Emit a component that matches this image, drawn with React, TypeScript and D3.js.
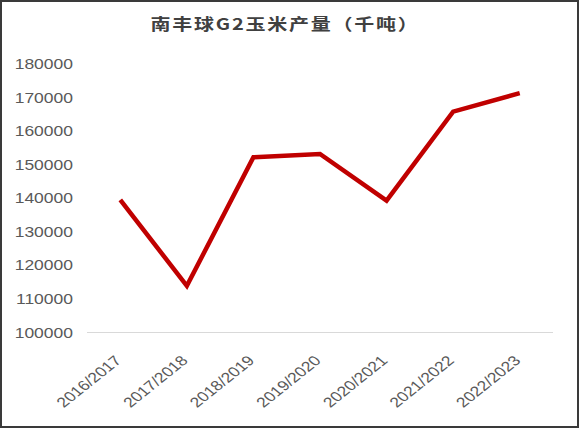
import { useEffect, useRef } from 'react';
import * as d3 from 'd3';

const seasons = [
  '2016/2017',
  '2017/2018',
  '2018/2019',
  '2019/2020',
  '2020/2021',
  '2021/2022',
  '2022/2023',
];
const output = [139500, 113900, 152200, 153200, 139300, 165800, 171300];
const yTicks = [100000, 110000, 120000, 130000, 140000, 150000, 160000, 170000, 180000];
const title = '南丰球G2玉米产量（千吨）';

// the reference screenshot is stretched horizontally, so text is too
const stretch = 1.25;

export default function App() {
  const svgRef = useRef<SVGSVGElement>(null);

  useEffect(() => {
    if (!svgRef.current) return;
    const svg = d3.select(svgRef.current);
    svg.selectAll('*').remove();

    const width = 581;
    const height = 430;
    const margin = { top: 64, right: 28, bottom: 97, left: 87 };

    svg.attr('width', width).attr('height', height);

    svg
      .append('rect')
      .attr('x', 1)
      .attr('y', 1)
      .attr('width', 577)
      .attr('height', 426)
      .attr('fill', '#fff')
      .attr('stroke', '#3a3a3a')
      .attr('stroke-width', 2);

    const x = d3
      .scaleBand()
      .domain(seasons)
      .range([margin.left, width - margin.right]);

    const y = d3
      .scaleLinear()
      .domain([100000, 180000])
      .range([height - margin.bottom - 0.5, margin.top]);

    // title
    svg
      .append('text')
      .attr('transform', `translate(285,30) scale(${stretch},1)`)
      .attr('text-anchor', 'middle')
      .attr('font-family', '"Noto Sans CJK SC", sans-serif')
      .attr('font-weight', 700)
      .attr('font-size', 16)
      .attr('letter-spacing', 1.4)
      .attr('fill', '#404040')
      .text(title);

    // y labels
    svg
      .append('g')
      .selectAll('text')
      .data(yTicks)
      .enter()
      .append('text')
      .attr('transform', (d) => `translate(73,${y(d) + 5}) scale(${stretch},1)`)
      .attr('text-anchor', 'end')
      .attr('font-family', '"Liberation Sans", Arial, sans-serif')
      .attr('font-size', 14)
      .attr('fill', '#595959')
      .text((d) => String(d));

    // x axis line
    svg
      .append('line')
      .attr('x1', x.range()[0])
      .attr('x2', x.range()[1])
      .attr('y1', y(100000))
      .attr('y2', y(100000))
      .attr('stroke', '#d9d9d9')
      .attr('stroke-width', 1.2);

    // x labels
    svg
      .append('g')
      .selectAll('text')
      .data(seasons)
      .enter()
      .append('text')
      .attr(
        'transform',
        (d) =>
          `translate(${x(d)! + x.bandwidth() / 2 + 2},${y(100000) + 29}) scale(${stretch},1) rotate(-45)`
      )
      .attr('text-anchor', 'end')
      .attr('font-family', '"Liberation Sans", Arial, sans-serif')
      .attr('font-size', 14)
      .attr('fill', '#595959')
      .text((d) => d);

    const line = d3
      .line<number>()
      .x((_, i) => x(seasons[i])! + x.bandwidth() / 2)
      .y((d) => y(d));

    svg
      .append('path')
      .datum(output)
      .attr('fill', 'none')
      .attr('stroke', '#c00000')
      .attr('stroke-width', 4.5)
      .attr('stroke-linejoin', 'miter')
      .attr('d', line);
  }, []);

  return (
    <div style={{ position: 'absolute', top: 0, left: 0 }}>
      <svg ref={svgRef} style={{ display: 'block' }} />
    </div>
  );
}
